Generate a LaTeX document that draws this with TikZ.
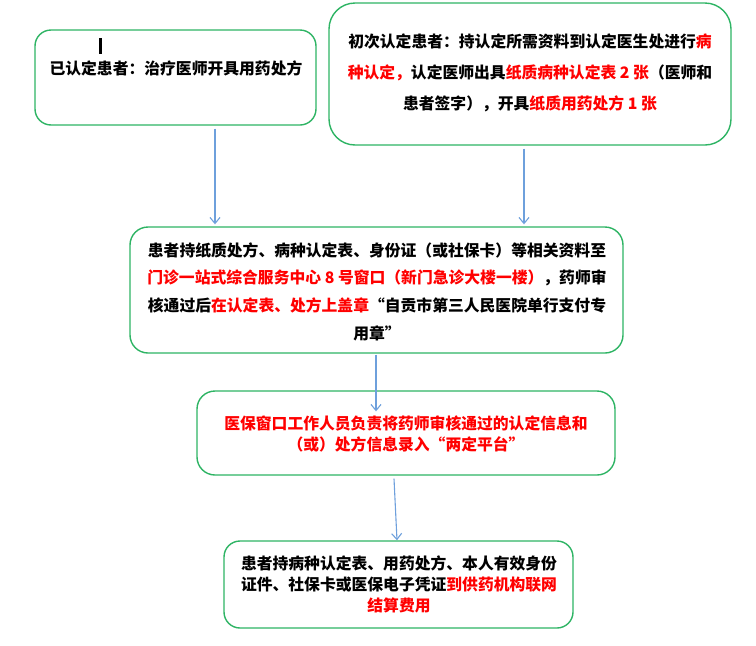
\documentclass[tikz,border=0pt]{standalone}
\usepackage{fontspec}
\newfontfamily\cjk{Noto Sans CJK SC}
\usetikzlibrary{arrows.meta}
\definecolor{boxgreen}{RGB}{46,180,100}
\definecolor{arrblue}{RGB}{110,160,220}
\definecolor{tred}{RGB}{255,0,0}
\tikzset{
  box/.style={draw=boxgreen, line width=1.4pt, rounded corners=#1, fill=white, inner sep=0pt},
  box/.default=16pt,
  txt/.style={align=center, inner sep=0pt, font=\cjk\bfseries\fontsize{15.8}{#1}\selectfont},
  txt/.default=30pt,
  arr/.style={draw=arrblue, line width=1.1pt, -{Straight Barb[length=6pt,width=10pt]}},
}
\newcommand{\rd}[1]{\textcolor{tred}{#1}}
\begin{document}
\begin{tikzpicture}[x=1pt,y=-1pt]
\useasboundingbox (0,0) rectangle (756,646);
% boxes
\node[box=16pt, minimum width=281pt, minimum height=95pt] (b1) at (175.5,77.5) {};
\node[box=26pt, minimum width=402pt, minimum height=142pt] (b2) at (530,74) {};
\node[box=18pt, minimum width=493pt, minimum height=126pt] (b3) at (376.5,290) {};
\node[box=18pt, minimum width=418pt, minimum height=84pt] (b4) at (406,433) {};
\node[box=16pt, minimum width=349pt, minimum height=87pt] (b5) at (398.5,584.5) {};
% texts
\draw[line width=2.2pt] (100.5,38) -- (100.5,54);
\node[txt] (t1) at (176,68) {已认定患者：治疗医师开具用药处方};
\node[txt=31pt] (t2) at (530,73) {初次认定患者：持认定所需资料到认定医生处进行\rd{病}\\
\rd{种认定，}认定医师出具\rd{纸质病种认定表 2 张}（医师和\\
患者签字），开具\rd{纸质用药处方 1 张}};
\node[txt=27.7pt] (t3) at (377,291.5) {患者持纸质处方、病种认定表、身份证（或社保卡）等相关资料至\\
\rd{门诊一站式综合服务中心 8 号窗口（新门急诊大楼一楼）}，药师审\\
核通过后\rd{在认定表、处方上盖章}“自贡市第三人民医院单行支付专\\
用章”};
\node[txt=21pt, text=tred] (t4) at (406,433.5) {医保窗口工作人员负责将药师审核通过的认定信息和\\
（或）处方信息录入“两定平台”};
\node[txt=21pt] (t5) at (399,584) {患者持病种认定表、用药处方、本人有效身份\\
证件、社保卡或医保电子凭证\rd{到供药机构联网}\\
\rd{结算费用}};
% arrows
\draw[arr] ([xshift=39.5pt,yshift=-3pt]b1.south) -- ([xshift=-161.5pt,yshift=2pt]b3.north);
\draw[arr] ([xshift=-6pt,yshift=-3pt]b2.south) -- ([xshift=147.5pt,yshift=2pt]b3.north);
\draw[arr] ([xshift=-0.5pt,yshift=-1pt]b3.south) -- ([xshift=-30pt,yshift=-21pt]b4.north);
\draw[arr] ([xshift=-12pt,yshift=-3pt]b4.south) -- ([xshift=-1.5pt]b5.north);
\end{tikzpicture}
\end{document}
